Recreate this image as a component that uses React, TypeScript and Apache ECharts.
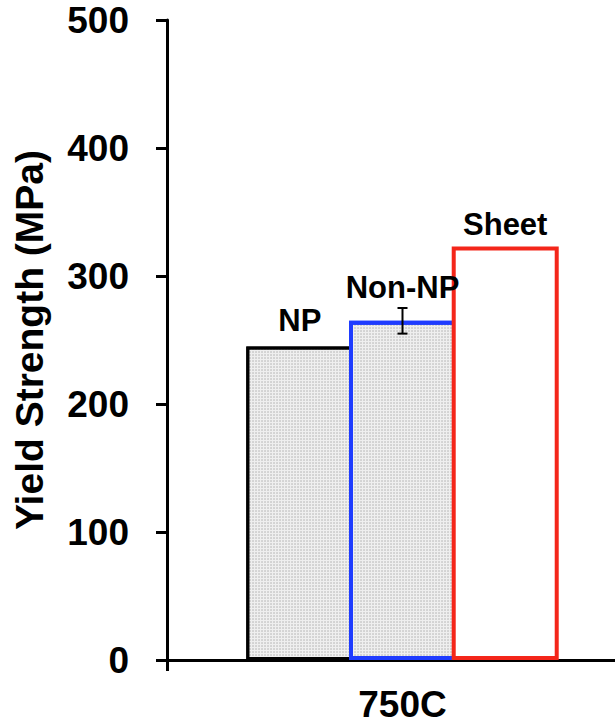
import React, { useEffect, useRef } from "react";
import * as echarts from "echarts";

const categories = ["750C"];
const seriesNames = ["NP", "Non-NP", "Sheet"];
const npValues = [245];
const nonNpValues = [265];
const sheetValues = [323];
const nonNpErrorLow = [255];
const nonNpErrorHigh = [275];
const yTicks = [0, 100, 200, 300, 400, 500];

const FONT = "'Liberation Sans', Arial, Helvetica, sans-serif";

export default function App() {
  const ref = useRef<HTMLDivElement>(null);
  useEffect(() => {
    if (!ref.current) return;
    const chart = echarts.init(ref.current, null, { renderer: "svg" });
    const decal = {
      symbol: "circle",
      symbolSize: 0.7,
      color: "rgba(0,0,0,0.28)",
      dashArrayX: [2, 1],
      dashArrayY: [2, 1],
    };
    const labelBase = {
      show: true,
      position: "top" as const,
      fontSize: 31,
      fontWeight: "bold" as const,
      color: "#000",
      fontFamily: FONT,
    };
    chart.setOption({
      animation: false,
      backgroundColor: "#fff",
      grid: { left: 167, top: 20, right: 0, bottom: 67 },
      xAxis: {
        type: "category",
        data: categories,
        boundaryGap: true,
        axisLine: { show: true, lineStyle: { color: "#000", width: 3 } },
        axisTick: { show: true, length: 11, lineStyle: { color: "#000", width: 3 } },
        axisLabel: {
          fontSize: 37,
          fontWeight: "bold",
          color: "#000",
          fontFamily: FONT,
          margin: 26,
        },
      },
      yAxis: {
        type: "value",
        min: yTicks[0],
        max: yTicks[yTicks.length - 1],
        interval: 100,
        name: "Yield Strength (MPa)",
        nameLocation: "middle",
        nameGap: 118,
        nameTextStyle: {
          fontSize: 39,
          fontWeight: "bold",
          color: "#000",
          fontFamily: FONT,
        },
        splitLine: { show: false },
        axisLine: { show: true, lineStyle: { color: "#000", width: 3 } },
        axisTick: { show: true, length: 11, lineStyle: { color: "#000", width: 3 } },
        axisLabel: {
          fontSize: 37,
          fontWeight: "bold",
          color: "#000",
          fontFamily: FONT,
          margin: 38,
        },
      },
      series: [
        {
          name: seriesNames[0],
          type: "bar",
          data: npValues,
          barWidth: 107,
          barGap: "-4%",
          itemStyle: { color: "#efefef", borderColor: "#000", borderWidth: 3, decal },
          label: { ...labelBase, distance: 10, formatter: seriesNames[0] },
        },
        {
          name: seriesNames[1],
          type: "bar",
          data: nonNpValues,
          barWidth: 107,
          barGap: "-4%",
          itemStyle: { color: "#efefef", borderColor: "#1f3cff", borderWidth: 4, decal },
          label: { ...labelBase, distance: 18, formatter: seriesNames[1] },
        },
        {
          name: seriesNames[2],
          type: "bar",
          data: sheetValues,
          barWidth: 107,
          barGap: "-4%",
          itemStyle: { color: "#fff", borderColor: "#f4261a", borderWidth: 4 },
          label: { ...labelBase, distance: 7, formatter: seriesNames[2] },
        },
        {
          type: "custom",
          z: 10,
          data: categories.map((c, i) => [i, nonNpErrorLow[i], nonNpErrorHigh[i]]),
          renderItem: (params: any, api: any) => {
            const lo = api.coord([api.value(0), api.value(1)]);
            const hi = api.coord([api.value(0), api.value(2)]);
            const x = lo[0];
            const cap = 5;
            const style = { stroke: "#000", lineWidth: 2 };
            return {
              type: "group",
              children: [
                { type: "line", shape: { x1: x, y1: lo[1], x2: x, y2: hi[1] }, style },
                { type: "line", shape: { x1: x - cap, y1: lo[1], x2: x + cap, y2: lo[1] }, style },
                { type: "line", shape: { x1: x - cap, y1: hi[1], x2: x + cap, y2: hi[1] }, style },
              ],
            };
          },
        },
      ],
    });
    return () => chart.dispose();
  }, []);
  return <div ref={ref} style={{ width: 638, height: 727, position: "fixed", left: 0, top: 0 }} />;
}
